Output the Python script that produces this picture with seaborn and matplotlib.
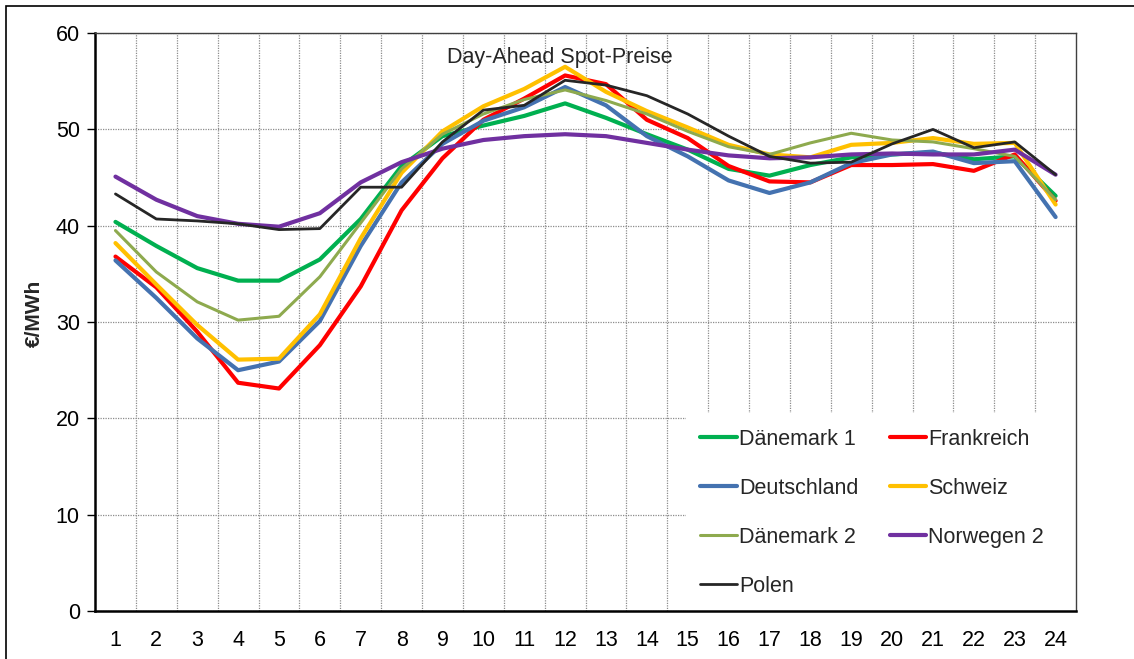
import numpy as np
import pandas as pd
import matplotlib
matplotlib.use("Agg")
import matplotlib.pyplot as plt
from matplotlib.patches import Rectangle
from matplotlib.lines import Line2D
import seaborn as sns

# -----------------------------------------
# Data: hourly day-ahead spot prices (EUR/MWh)
# -----------------------------------------
hours = list(range(1, 25))

daenemark_1 = [40.4, 37.9, 35.6, 34.3, 34.3, 36.5, 40.7, 46.2, 49.3, 50.4, 51.4, 52.7,
               51.2, 49.5, 47.9, 45.9, 45.2, 46.3, 47.1, 47.4, 47.6, 46.9, 47.2, 43.1]
frankreich = [36.8, 33.6, 29.0, 23.7, 23.1, 27.6, 33.7, 41.6, 47.0, 51.0, 53.2, 55.6,
              54.7, 51.0, 49.1, 46.2, 44.6, 44.5, 46.3, 46.3, 46.4, 45.7, 47.4, 42.6]
deutschland = [36.4, 32.5, 28.3, 25.0, 25.9, 30.1, 37.9, 44.5, 48.5, 50.9, 52.3, 54.4,
               52.5, 49.3, 47.2, 44.7, 43.4, 44.5, 46.5, 47.4, 47.7, 46.5, 46.7, 40.9]
schweiz = [38.2, 33.9, 29.7, 26.1, 26.2, 30.8, 38.7, 45.5, 49.8, 52.4, 54.2, 56.5,
           53.9, 51.9, 50.2, 48.4, 47.4, 47.1, 48.4, 48.6, 49.1, 48.5, 48.6, 42.2]
daenemark_2 = [39.5, 35.2, 32.1, 30.2, 30.6, 34.7, 40.3, 45.9, 49.5, 51.6, 53.1, 54.1,
               53.0, 51.6, 49.8, 48.2, 47.4, 48.6, 49.6, 48.9, 48.7, 48.0, 47.2, 42.7]
norwegen_2 = [45.1, 42.7, 41.0, 40.2, 39.9, 41.3, 44.5, 46.6, 48.0, 48.9, 49.3, 49.5,
              49.3, 48.6, 47.9, 47.3, 47.0, 47.1, 47.4, 47.5, 47.4, 47.4, 47.9, 45.3]
polen = [43.3, 40.7, 40.5, 40.2, 39.6, 39.7, 44.0, 44.0, 48.7, 52.0, 52.5, 55.1,
         54.6, 53.5, 51.6, 49.3, 47.2, 46.5, 46.6, 48.5, 50.0, 48.1, 48.7, 45.3]

series = {
    "Dänemark 1": daenemark_1,
    "Frankreich": frankreich,
    "Deutschland": deutschland,
    "Schweiz": schweiz,
    "Dänemark 2": daenemark_2,
    "Norwegen 2": norwegen_2,
    "Polen": polen,
}

colors = {
    "Dänemark 1": "#00B050",
    "Frankreich": "#FF0000",
    "Deutschland": "#4472B0",
    "Schweiz": "#FFC000",
    "Dänemark 2": "#8EAA4E",
    "Norwegen 2": "#7030A0",
    "Polen": "#262626",
}
widths = {
    "Dänemark 1": 3.0, "Frankreich": 3.0, "Deutschland": 3.0, "Schweiz": 3.0,
    "Dänemark 2": 2.2, "Norwegen 2": 3.0, "Polen": 2.0,
}

df = pd.DataFrame(series, index=hours).reset_index(names="hour")
long = df.melt(id_vars="hour", var_name="country", value_name="price")

# -----------------------------------------
# Plot
# -----------------------------------------
sns.set_style("white")
plt.rcParams["font.family"] = ["Liberation Sans", "DejaVu Sans"]
fs = 15.5

fig = plt.figure(figsize=(11.34, 6.59), dpi=100)
ax = fig.add_axes([0.0838, 0.0728, 0.8651, 0.877])

for name in series:
    sns.lineplot(data=long[long["country"] == name], x="hour", y="price",
                 color=colors[name], linewidth=widths[name], ax=ax,
                 legend=False, zorder=3)

ax.set_xlim(0.5, 24.5)
ax.set_ylim(0, 60)
ax.set_xticks(hours)
ax.set_xticks(np.arange(1.5, 24, 1), minor=True)
ax.set_yticks(range(0, 61, 10))
ax.tick_params(axis="x", which="both", length=0, pad=14, labelsize=fs, colors="black")
ax.tick_params(axis="y", length=6, width=1, pad=5, labelsize=fs, colors="black", left=True)

ax.set_axisbelow(True)
ax.grid(which="minor", axis="x", linestyle=(0, (1, 1)), color="#8c8c8c", linewidth=0.9)
ax.grid(which="major", axis="y", linestyle=(0, (1, 1)), color="#8c8c8c", linewidth=0.9)
ax.grid(which="major", axis="x", visible=False)

ax.set_xlabel("")
ax.set_ylabel("€/MWh", fontsize=15, fontweight="bold")
ax.yaxis.set_label_coords(-0.052, 0.515)

for side in ["left", "bottom"]:
    ax.spines[side].set_color("black")
    ax.spines[side].set_linewidth(1.8)
for side in ["top", "right"]:
    ax.spines[side].set_color("#404040")
    ax.spines[side].set_linewidth(1.0)

ax.text(0.474, 0.958, "Day-Ahead Spot-Preise", transform=ax.transAxes,
        ha="center", va="center", fontsize=fs)

# white area behind legend
ax.add_patch(Rectangle((0.602, 0), 0.398, 0.343, transform=ax.transAxes,
                       facecolor="white", edgecolor="none", zorder=1))

order = ["Dänemark 1", "Deutschland", "Dänemark 2", "Polen",
         "Frankreich", "Schweiz", "Norwegen 2"]
handles = [Line2D([], [], color=colors[n], linewidth=widths[n]) for n in order]
ax.legend(handles, order, ncol=2, loc="upper left", bbox_to_anchor=(0.617, 0.315),
          frameon=False, fontsize=fs, handlelength=1.7, handletextpad=0.1,
          labelspacing=1.3, columnspacing=1.45, borderaxespad=0, borderpad=0)

# outer chart border
fig.add_artist(Rectangle((0.0053, -0.1), 1.2, 1.0909, transform=fig.transFigure,
                         fill=False, edgecolor="black", linewidth=1.2))

plt.savefig("out.png", dpi=100)
